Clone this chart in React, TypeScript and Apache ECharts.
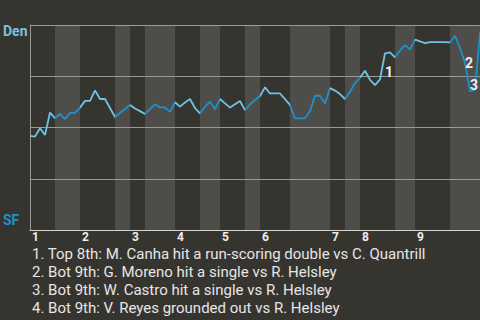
import React, { useEffect, useRef } from "react";
import * as echarts from "echarts";

// Win probability (0 = SF, 100 = Den) per plate appearance index
const WIN_PROB = [
  45.9, 45.6, 49.6, 46.3, 57.3, 54.6, 56.6, 54.1, 57.1, 57.2,
  59.7, 63.0, 63.0, 68.1, 63.9, 63.9, 59.5, 55.1, 57.1, 59.0,
  61.0, 59.3, 58.0, 56.6, 59.0, 61.3, 59.8, 59.8, 57.6, 62.3,
  60.2, 62.2, 63.9, 59.5, 56.9, 60.1, 62.6, 58.9, 63.9, 61.8,
  59.7, 61.3, 62.9, 58.5, 61.3, 63.4, 65.4, 69.6, 66.6, 66.6,
  66.6, 63.8, 61.0, 54.5, 54.5, 54.5, 58.0, 65.5, 65.5, 61.7,
  69.3, 68.0, 66.3, 63.9, 67.5, 71.7, 74.4, 77.7, 73.2, 70.7,
  73.5, 86.2, 86.7, 84.2, 87.6, 90.2, 88.1, 92.9, 92.0, 91.2,
  91.6, 91.6, 91.6, 91.6, 91.5, 94.8, 88.8, 81.5, 67.8, 68.3,
  96.1, 100,
];

// half innings as [startIndex, endIndex]
const TOP_HALVES = [[0, 5], [10, 17], [20, 23], [29, 34], [38, 43], [46, 52], [60, 63], [66, 73], [77, 84]];
const BOTTOM_HALVES = [[5, 10], [17, 20], [23, 29], [34, 38], [43, 46], [52, 60], [63, 66], [73, 77], [84, 91]];

const INNING_STARTS = [0, 10, 20, 29, 38, 46, 60, 66, 77];
const INNING_LABELS = ["1", "2", "3", "4", "5", "6", "7", "8", "9"];

const EVENT_INDEX = [71, 87, 88, 91];
const EVENT_MARKS = ["1", "2", "3", "4"];
const EVENT_TEXTS = [
  "1. Top 8th: M. Canha hit a run-scoring double vs C. Quantrill",
  "2. Bot 9th: G. Moreno hit a single vs R. Helsley",
  "3. Bot 9th: W. Castro hit a single vs R. Helsley",
  "4. Bot 9th: V. Reyes grounded out vs R. Helsley",
];

const TEAM_TOP = "Den";
const TEAM_BOTTOM = "SF";

const LIGHT = "#6fc3e2";
const DARK = "#1d91c9";
const BG = "#36342f";
const BAND = "#4f4d4a";
const FONT = "Roboto";

const MARK_OFFSETS = [[4, 19], [4, 0], [4, -6.5], [4, 0]];

export default function App() {
  const ref = useRef<HTMLDivElement>(null);

  useEffect(() => {
    document.body.style.margin = "0";
    const chart = echarts.init(ref.current!, null, { renderer: "svg" });

    const data = WIN_PROB.map((v, i) => [i, v]);
    const pieces: any[] = [
      ...TOP_HALVES.map(([a, b]) => ({ gte: a, lt: b, color: LIGHT })),
      ...BOTTOM_HALVES.map(([a, b]) => ({ gte: a, lt: b, color: DARK })),
    ];
    pieces.push({ gte: 91, lte: 200, color: DARK });

    const option: any = {
      animation: false,
      backgroundColor: BG,
      grid: { left: 30, top: 25, right: 0, bottom: 90 },
      xAxis: {
        type: "value",
        min: 0,
        max: 90,
        z: 2,
        axisLine: { show: true, lineStyle: { color: "#d6d4d0", width: 1 } },
        axisTick: { show: false },
        splitLine: { show: false },
        axisLabel: {
          customValues: INNING_STARTS,
          formatter: (v: number) => {
            const i = INNING_STARTS.indexOf(v);
            return i >= 0 ? INNING_LABELS[i] : "";
          },
          align: "left",
          padding: [0, 0, 0, 2],
          margin: 1,
          color: "#eeeeee",
          fontWeight: "bold",
          fontSize: 12,
          fontFamily: FONT,
        },
      },
      yAxis: {
        type: "value",
        min: 0,
        max: 100,
        interval: 25,
        z: 2,
        axisLine: { show: true, lineStyle: { color: "#9b9996", width: 1 } },
        axisTick: { show: false },
        axisLabel: { show: false },
        splitLine: { show: true, lineStyle: { color: "#9b9996", width: 1 } },
      },
      visualMap: {
        show: false,
        type: "piecewise",
        dimension: 0,
        seriesIndex: 0,
        pieces,
      },
      series: [
        {
          type: "line",
          z: 3,
          data,
          symbol: "none",
          lineStyle: { width: 1.8 },
          clip: true,
          markArea: {
            silent: true,
            itemStyle: { color: BAND },
            data: BOTTOM_HALVES.map(([a, b]) => [{ xAxis: a }, { xAxis: Math.min(b, 90) }]),
          },
          markPoint: {
            symbol: "circle",
            symbolSize: 1,
            silent: true,
            itemStyle: { color: "rgba(0,0,0,0)" },
            data: EVENT_INDEX.map((k, i) => ({
              name: EVENT_MARKS[i],
              coord: [k, WIN_PROB[k]],
              label: {
                show: true,
                formatter: "{b}",
                position: "inside",
                offset: MARK_OFFSETS[i],
                color: "#eeeeee",
                fontWeight: "bold",
                fontSize: 14,
                fontFamily: FONT,
              },
            })),
          },
        },
      ],
      graphic: [
        {
          type: "text",
          left: 3,
          top: 24,
          style: { text: TEAM_TOP, fill: "#78c2df", font: `bold 14px ${FONT}` },
        },
        {
          type: "text",
          left: 3,
          top: 213,
          style: { text: TEAM_BOTTOM, fill: DARK, font: `bold 14px ${FONT}` },
        },
        ...EVENT_TEXTS.map((t, i) => ({
          type: "text",
          x: 32,
          y: 253.5 + i * 18,
          style: {
            text: t,
            fill: "#e6e6e6",
            font: `15px ${FONT}`,
            verticalAlign: "middle",
            align: "left",
          },
        })),
      ],
    };

    chart.setOption(option);
    return () => chart.dispose();
  }, []);

  return <div ref={ref} style={{ width: 480, height: 320 }} />;
}
